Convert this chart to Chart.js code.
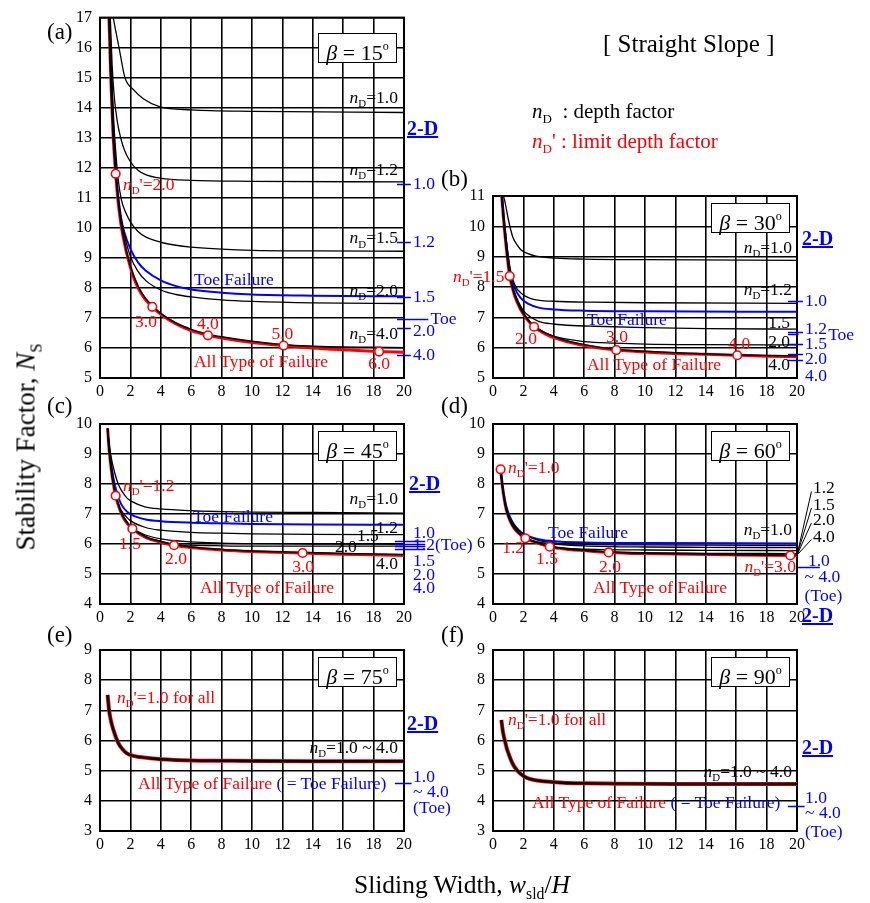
<!DOCTYPE html>
<html>
<head>
<meta charset="utf-8">
<script src="https://cdn.jsdelivr.net/npm/chart.js@4.4.1/dist/chart.umd.min.js"></script>
<style>
  html, body { margin: 0; padding: 0; background: #fff; }
  #stage { position: relative; width: 870px; height: 903px; overflow: hidden; background: #fff;
           font-family: "Liberation Serif", "Times New Roman", serif; }
  #stage canvas { position: absolute; left: 0; top: 0; }
  .t { position: absolute; white-space: nowrap; line-height: 1; font-size: 17.5px; }
  .k { color: #000; }
  .r { color: #ff0000; }
  .b { color: #0000ff; }
  .d { color: #0000ff; font-weight: bold; font-size: 20px; text-decoration: underline; text-decoration-thickness: 2px; }
  .sb { font-size: 0.62em; position: relative; top: 0.4em; font-style: normal; }
  .pl { font-size: 23px; }
  .beta { position: absolute; box-sizing: border-box; width: 79px; height: 30px; border: 1.5px solid #000; background: #fff;
          font-size: 22px; line-height: 28px; text-align: center; white-space: nowrap; }
  .beta sup { font-size: 0.55em; position: relative; top: -0.15em; }
  .ttl { font-size: 25.5px; }
  .ytl { font-size: 27px; }
  .key { font-size: 21px; }
</style>
</head>
<body>
<div id="stage"></div>
<script>
// ---------- axis ticks ----------
const X_TICKS = [0, 2, 4, 6, 8, 10, 12, 14, 16, 18, 20];
const Y_TICKS_A = [5, 6, 7, 8, 9, 10, 11, 12, 13, 14, 15, 16, 17];
const Y_TICKS_B = [5, 6, 7, 8, 9, 10, 11];
const Y_TICKS_C = [4, 5, 6, 7, 8, 9, 10];
const Y_TICKS_D = [4, 5, 6, 7, 8, 9, 10];
const Y_TICKS_E = [3, 4, 5, 6, 7, 8, 9];
const Y_TICKS_F = [3, 4, 5, 6, 7, 8, 9];

// ---------- (a) beta = 15 deg : [w/H, Ns] ----------
const A_ND10 = [[0.87,17],[1.31,15.84],[1.64,15.0],[2.2,14.6],[2.85,14.3],[3.95,14.03],[6,13.93],[10,13.88],[20,13.84]];
const A_ND12 = [[0.68,17],[0.8,15.4],[0.95,14.3],[1.15,13.5],[1.36,13.0],[1.6,12.6],[2,12.2],[2.5,11.92],[3,11.77],[4,11.65],[6,11.58],[10,11.55],[20,11.53]];
const A_ND15 = [[0.64,17],[0.75,15.3],[0.9,13.6],[1.05,12.45],[1.2,11.6],[1.4,10.95],[1.7,10.5],[2,10.2],[2.5,9.88],[3,9.7],[4,9.52],[5,9.42],[6,9.36],[8,9.29],[10,9.25],[14,9.23],[20,9.22]];
const A_ND20 = [[0.6,17],[0.7,15.15],[0.85,13.25],[1.03,11.85],[1.25,10.75],[1.5,10.0],[2,9.05],[2.5,8.55],[3,8.25],[4,7.93],[5,7.78],[6,7.7],[8,7.6],[10,7.55],[14,7.5],[20,7.48]];
const A_ND40 = [[0.6,17],[0.7,15.1],[0.85,13.25],[1.03,11.85],[1.25,10.65],[1.5,9.8],[2,8.72],[2.5,8.06],[3,7.65],[3.44,7.41],[4,7.15],[5,6.83],[6,6.62],[7.1,6.46],[8,6.37],[10,6.22],[12.08,6.11],[14,6.06],[16,6.03],[18,6.02],[20,6.01]];
const A_TOE  = [[0.62,17],[0.72,15.2],[0.87,13.3],[1.03,12.0],[1.2,11.05],[1.4,10.3],[1.6,9.85],[2,9.3],[2.5,8.85],[3,8.58],[4,8.25],[5,8.06],[6,7.95],[8,7.84],[10,7.78],[14,7.74],[20,7.72]];
const A_ALL  = [[0.59,17],[0.7,15.1],[0.85,13.2],[1.03,11.8],[1.25,10.6],[1.5,9.75],[2,8.68],[2.5,8.0],[3,7.6],[3.44,7.37],[4,7.12],[5,6.8],[6,6.58],[7.1,6.42],[8,6.33],[10,6.18],[12.08,6.08],[14,6.0],[16,5.94],[18.36,5.88],[20,5.86]];
const A_LIMIT = [[1.03,11.8],[3.44,7.37],[7.1,6.42],[12.08,6.08],[18.36,5.88]];
const A_2D = [11.46, 9.53, 7.70, 6.97, 6.66, 5.78];   // 1.0, 1.2, 1.5, Toe, 2.0, 4.0

// ---------- (b) beta = 30 deg ----------
const B_ND10 = [[0.7,11],[0.85,10.65],[1.0,10.25],[1.3,9.65],[1.6,9.38],[1.85,9.22],[2.3,9.1],[2.83,9.02],[4.13,8.95],[6,8.92],[10,8.9],[20,8.88]];
const B_ND12 = [[0.6,11],[0.72,10.25],[0.88,9.5],[1.1,8.7],[1.41,8.1],[1.96,7.75],[2.5,7.62],[3.07,7.56],[4,7.53],[6.4,7.5],[10,7.48],[20,7.46]];
const B_ND15 = [[0.57,11],[0.7,10.2],[0.85,9.42],[1.1,8.4],[1.4,7.85],[1.96,7.25],[2.5,7.0],[3.04,6.86],[4,6.78],[5.2,6.73],[6.4,6.71],[10,6.66],[14,6.63],[20,6.61]];
const B_ND20 = [[0.57,11],[0.7,10.2],[0.85,9.42],[1.1,8.4],[1.4,7.8],[1.8,7.33],[2.2,7.0],[2.7,6.72],[3.2,6.55],[4,6.38],[5,6.27],[6,6.2],[8,6.15],[10,6.12],[14,6.1],[20,6.09]];
const B_ND40 = [[0.57,11],[0.7,10.2],[0.85,9.42],[1.1,8.38],[1.4,7.77],[1.8,7.29],[2.2,6.98],[2.7,6.71],[3.5,6.47],[4.5,6.28],[6,6.1],[8.11,5.94],[10,5.88],[12,5.83],[14,5.79],[16.07,5.76],[18,5.74],[20,5.73]];
const B_TOE  = [[0.6,11],[0.72,10.25],[0.87,9.5],[1.1,8.55],[1.4,8.0],[1.8,7.65],[2.3,7.45],[3,7.32],[4,7.26],[6,7.22],[10,7.2],[20,7.18]];
const B_ALL  = [[0.57,11],[0.7,10.2],[0.85,9.4],[1.1,8.36],[1.4,7.75],[1.8,7.27],[2.2,6.96],[2.7,6.69],[3.5,6.44],[4.5,6.25],[6,6.07],[8.11,5.92],[10,5.86],[12,5.81],[14,5.78],[16.07,5.75],[18,5.72],[20,5.7]];
const B_LIMIT = [[1.1,8.36],[2.7,6.69],[8.11,5.92],[16.07,5.75]];
const B_2D = [7.55, 6.53, 6.45, 6.12, 5.79, 5.6];      // 1.0, 1.2, Toe, 1.5, 2.0, 4.0

// ---------- (c) beta = 45 deg ----------
const C_ND10 = [[0.5,9.85],[0.6,9.35],[0.75,8.85],[0.98,8.35],[1.2,8.0],[1.42,7.78],[1.8,7.52],[2.08,7.42],[2.95,7.24],[4,7.17],[6,7.11],[8,7.08],[10,7.06],[14,7.05],[20,7.03]];
const C_ND12 = [[0.5,9.85],[0.6,9.18],[0.75,8.5],[0.88,8.05],[1.03,7.63],[1.3,7.22],[1.6,6.98],[2,6.78],[3,6.55],[4,6.46],[6,6.39],[8,6.36],[10,6.34],[14,6.32],[20,6.31]];
const C_ND15 = [[0.5,9.85],[0.6,9.17],[0.75,8.48],[0.88,8.04],[1.03,7.65],[1.3,7.19],[1.6,6.87],[2.13,6.53],[3,6.3],[4,6.17],[6,6.07],[8,6.03],[10,6.01],[14,6.0],[20,5.99]];
const C_ND20 = [[0.5,9.85],[0.6,9.17],[0.75,8.47],[0.88,8.02],[1.03,7.64],[1.3,7.17],[1.6,6.85],[2.13,6.53],[3,6.25],[4,6.09],[4.87,5.99],[6,5.96],[8,5.94],[10,5.93],[14,5.93],[20,5.93]];
const C_ND40 = [[0.5,9.85],[0.6,9.17],[0.75,8.47],[0.88,8.02],[1.03,7.63],[1.3,7.17],[1.6,6.84],[2.13,6.53],[3,6.24],[4,6.08],[4.87,5.98],[6,5.9],[8,5.82],[10,5.77],[13.33,5.72],[16,5.68],[20,5.65]];
const C_TOE  = [[0.5,9.85],[0.6,9.2],[0.75,8.6],[0.9,8.15],[1.1,7.72],[1.4,7.32],[1.8,7.07],[2.3,6.92],[3,6.82],[4,6.76],[6,6.71],[8,6.69],[10,6.67],[14,6.65],[20,6.64]];
const C_ALL  = [[0.5,9.85],[0.6,9.15],[0.75,8.45],[0.88,8.0],[1.03,7.61],[1.3,7.15],[1.6,6.82],[2.13,6.51],[3,6.22],[4,6.06],[4.87,5.96],[6,5.88],[8,5.8],[10,5.75],[13.33,5.7],[16,5.66],[20,5.62]];
const C_LIMIT = [[1.03,7.61],[2.13,6.51],[4.87,5.96],[13.33,5.7]];
const C_2D = [6.09, 6.01, 5.92, 5.84];

// ---------- (d) beta = 60 deg ----------
const D_ND10 = [[0.5,8.49],[0.6,8.02],[0.7,7.66],[0.88,7.2],[1.1,6.88],[1.32,6.68],[1.7,6.45],[2.13,6.3],[3,6.12],[4,6.04],[6,5.99],[10,5.97],[14,5.96],[20,5.95]];
const D_ND12 = [[0.5,8.49],[0.6,8.0],[0.7,7.63],[0.88,7.15],[1.1,6.82],[1.32,6.6],[1.7,6.37],[2.13,6.2],[3,6.06],[4,6.0],[6,5.94],[10,5.9],[14,5.89],[20,5.88]];
const D_ND15 = [[0.5,8.49],[0.6,8.0],[0.7,7.62],[0.88,7.14],[1.1,6.81],[1.32,6.59],[1.7,6.36],[2.13,6.2],[3,6.03],[3.73,5.92],[5,5.85],[6,5.83],[10,5.8],[14,5.79],[20,5.78]];
const D_ND20 = [[0.5,8.49],[0.6,8.0],[0.7,7.62],[0.88,7.14],[1.1,6.81],[1.32,6.59],[1.7,6.36],[2.13,6.2],[3,6.03],[3.73,5.92],[5,5.83],[6,5.79],[7.61,5.73],[10,5.7],[14,5.69],[20,5.68]];
const D_ND40 = [[0.5,8.49],[0.6,8.0],[0.7,7.62],[0.88,7.14],[1.1,6.81],[1.32,6.59],[1.7,6.36],[2.13,6.2],[3,6.03],[3.73,5.92],[5,5.83],[6,5.79],[7.61,5.73],[10,5.69],[14,5.66],[19.56,5.63],[20,5.63]];
const D_TOE  = [[0.55,8.3],[0.7,7.7],[0.88,7.25],[1.1,6.92],[1.32,6.7],[1.7,6.46],[2.13,6.3],[3,6.16],[4,6.09],[6,6.05],[10,6.03],[20,6.02]];
const D_ALL  = [[0.5,8.49],[0.6,8.0],[0.7,7.62],[0.88,7.13],[1.1,6.8],[1.32,6.58],[1.7,6.35],[2.13,6.19],[3,6.02],[3.73,5.91],[5,5.82],[6,5.78],[7.61,5.72],[10,5.68],[14,5.65],[19.56,5.62],[20,5.62]];
const D_LIMIT = [[0.5,8.49],[2.13,6.19],[3.73,5.91],[7.61,5.72],[19.56,5.62]];
const D_2D = [5.24];

// ---------- (e) beta = 75 deg (all depth factors coincide) ----------
const E_NS  = [[0.5,7.51],[0.6,7.0],[0.7,6.7],[0.88,6.35],[1.2,5.92],[1.5,5.7],[1.75,5.58],[2.2,5.49],[2.63,5.45],[3.3,5.41],[4,5.38],[6,5.34],[8,5.33],[10,5.32],[14,5.31],[20,5.31]];
const E_2D = [4.59];

// ---------- (f) beta = 90 deg ----------
const F_NS  = [[0.55,6.68],[0.65,6.3],[0.77,6.02],[0.9,5.75],[1.1,5.46],[1.3,5.22],[1.54,5.04],[1.85,4.88],[2.19,4.77],[2.7,4.69],[3.29,4.65],[4.6,4.6],[6,4.58],[8.1,4.57],[12,4.56],[20,4.56]];
const F_2D = [3.82];

// ---------- colours & text helpers ----------
const RED = '#ff0000', BLUE = '#0000ff', BLACK = '#000000';
const ND  = "<i>n</i><span class='sb'>D</span>";
const NDP = "<i>n</i><span class='sb'>D</span>'";
const ALL_TOE = "<span class='r'>All Type of Failure</span> <span class='b'>( = Toe Failure)</span>";

Chart.defaults.font.family = "'Liberation Serif','Times New Roman',serif";
Chart.defaults.font.size = 16;
Chart.defaults.color = '#000';

const stage = document.getElementById('stage');
const W = 870, H = 903, Y_W = 50, X_H = 30;

function addText(x, y, html, cls, align) {
  const d = document.createElement('div');
  d.className = 't ' + (cls || '');
  d.innerHTML = html;
  d.style.left = x + 'px';
  d.style.top = y + 'px';
  const tx = align === 'r' ? '-100%' : (align === 'c' ? '-50%' : '0');
  d.style.transform = 'translate(' + tx + ',-50%)';
  stage.appendChild(d);
  return d;
}

function curve(points, color, width, order) {
  return {
    data: points.map(p => ({ x: p[0], y: p[1] })),
    borderColor: color, borderWidth: width, pointRadius: 0,
    cubicInterpolationMode: 'monotone', fill: false, order: order
  };
}

function makePanel(p) {
  const cv = document.createElement('canvas');
  cv.width = W; cv.height = H;
  cv.style.width = W + 'px'; cv.style.height = H + 'px';
  stage.appendChild(cv);
  const [L, T, R, B] = p.area;

  const datasets = [];
  if (p.limits) {
    datasets.push({
      data: p.limits.map(q => ({ x: q[0], y: q[1] })), showLine: false,
      pointRadius: 4.3, pointBackgroundColor: '#fff', pointBorderColor: RED, pointBorderWidth: 1.6, order: 0
    });
  }
  p.series.forEach(s => datasets.push(curve(s[0], s[1], s[2], s[3])));

  const deco = {
    id: 'deco',
    beforeDatasetsDraw(chart) {
      const { ctx, chartArea: a } = chart;
      ctx.save();
      ctx.strokeStyle = BLACK; ctx.lineWidth = 2;
      ctx.strokeRect(a.left, a.top, a.right - a.left, a.bottom - a.top);
      ctx.restore();
    },
    afterDraw(chart) {
      const { ctx } = chart;
      const xs = chart.scales.x, ys = chart.scales.y;
      ctx.save();
      ctx.strokeStyle = BLUE; ctx.lineWidth = 1.5;
      p.dashes.forEach(dd => {
        const y = Math.round(ys.getPixelForValue(dd[0])) + 0.5;
        ctx.beginPath();
        ctx.moveTo(xs.getPixelForValue(dd[1]), y);
        ctx.lineTo(xs.getPixelForValue(dd[2]), y);
        ctx.stroke();
      });
      if (p.leaders) {
        ctx.strokeStyle = BLACK; ctx.lineWidth = 1;
        p.leaders.forEach(l => {
          ctx.beginPath();
          ctx.moveTo(xs.getPixelForValue(l[0]), ys.getPixelForValue(l[1]));
          ctx.lineTo(xs.getPixelForValue(l[2]), ys.getPixelForValue(l[3]));
          ctx.stroke();
        });
      }
      ctx.restore();
    }
  };

  const chart = new Chart(cv, {
    type: 'line',
    data: { datasets },
    options: {
      responsive: false, animation: false, events: [], devicePixelRatio: 1,
      layout: { padding: { left: L - Y_W, top: T, right: W - R, bottom: H - B - X_H } },
      plugins: { legend: { display: false }, tooltip: { enabled: false } },
      scales: {
        x: {
          type: 'linear', min: X_TICKS[0], max: X_TICKS[X_TICKS.length - 1],
          afterBuildTicks: s => { s.ticks = X_TICKS.map(v => ({ value: v })); },
          afterFit: s => { s.height = X_H; },
          ticks: { padding: 4, maxRotation: 0, autoSkip: false, color: '#000', font: { size: 16 } },
          grid: { color: '#000', lineWidth: 1.6, drawTicks: false },
          border: { display: false }
        },
        y: {
          type: 'linear', min: p.yTicks[0], max: p.yTicks[p.yTicks.length - 1],
          afterBuildTicks: s => { s.ticks = p.yTicks.map(v => ({ value: v })); },
          afterFit: s => { s.width = Y_W; },
          ticks: { padding: 8, autoSkip: false, color: '#000', font: { size: 16 } },
          grid: { color: '#000', lineWidth: 1.6, drawTicks: false },
          border: { display: false }
        }
      }
    },
    plugins: [deco]
  });

  const xs = chart.scales.x, ys = chart.scales.y, a = chart.chartArea;
  // panel letter and slope-angle box
  addText(p.letter[0], p.letter[1], p.letter[2], 'k pl', 'l');
  const bx = document.createElement('div');
  bx.className = 'beta';
  bx.innerHTML = "<i>β</i> = " + p.beta + "<sup>o</sup>";
  bx.style.left = (a.right - 86) + 'px';
  bx.style.top = (a.top + p.boxTop) + 'px';
  stage.appendChild(bx);
  // curve labels and 2-D markers
  p.notes.forEach(n => addText(xs.getPixelForValue(n[0]), ys.getPixelForValue(n[1]), n[2], n[3], n[4]));
  return chart;
}

const panels = [
  {
    area: [100, 14, 404, 378], yTicks: Y_TICKS_A, beta: '15', boxTop: 15, letter: [47, 31, '(a)'],
    limits: A_LIMIT,
    series: [[A_ALL, RED, 3, 5], [A_TOE, BLUE, 2, 4], [A_ND10, BLACK, 1.3, 1], [A_ND12, BLACK, 1.3, 1],
             [A_ND15, BLACK, 1.3, 1], [A_ND20, BLACK, 1.3, 1], [A_ND40, BLACK, 1.5, 1]],
    dashes: [[A_2D[0], 19.54, 20.45], [A_2D[1], 19.54, 20.45], [A_2D[2], 19.54, 20.45],
             [A_2D[3], 19.54, 21.6], [A_2D[4], 19.54, 20.45], [A_2D[5], 19.54, 20.45]],
    notes: [
      [19.6, 14.33, ND + '=1.0', 'k', 'r'], [19.6, 11.92, ND + '=1.2', 'k', 'r'],
      [1.51, 11.43, NDP + '=2.0', 'r', 'l'], [19.6, 9.65, ND + '=1.5', 'k', 'r'],
      [6.18, 8.26, 'Toe Failure', 'b', 'l'], [19.6, 7.9, ND + '=2.0', 'k', 'r'],
      [3.03, 6.85, '3.0', 'r', 'c'], [7.1, 6.81, '4.0', 'r', 'c'], [12.0, 6.48, '5.0', 'r', 'c'],
      [19.6, 6.48, ND + '=4.0', 'k', 'r'], [6.18, 5.53, 'All Type of Failure', 'r', 'l'],
      [18.36, 5.46, '6.0', 'r', 'c'],
      [20.2, 13.34, '2-D', 'd', 'l'],
      [20.6, A_2D[0], '1.0', 'b', 'l'], [20.6, A_2D[1], '1.2', 'b', 'l'], [20.6, A_2D[2], '1.5', 'b', 'l'],
      [21.75, A_2D[3], 'Toe', 'b', 'l'], [20.6, 6.55, '2.0', 'b', 'l'], [20.6, A_2D[5], '4.0', 'b', 'l']
    ]
  },
  {
    area: [493, 196, 797, 378], yTicks: Y_TICKS_B, beta: '30', boxTop: 7, letter: [441, 178, '(b)'],
    limits: B_LIMIT,
    series: [[B_ALL, RED, 3, 5], [B_TOE, BLUE, 2, 4], [B_ND10, BLACK, 1.3, 1], [B_ND12, BLACK, 1.3, 1],
             [B_ND15, BLACK, 1.3, 1], [B_ND20, BLACK, 1.3, 1], [B_ND40, BLACK, 1.5, 1]],
    dashes: [[B_2D[0], 19.41, 20.4], [B_2D[1], 19.41, 20.4], [B_2D[2], 19.41, 20.1], [B_2D[3], 19.41, 20.4],
             [B_2D[4], 19.41, 20.4], [B_2D[5], 19.41, 20.4]],
    notes: [
      [19.67, 9.29, ND + '=1.0', 'k', 'r'], [0.75, 8.34, NDP + '=1.5', 'r', 'r'],
      [19.67, 7.91, ND + '=1.2', 'k', 'r'], [6.18, 6.92, 'Toe Failure', 'b', 'l'],
      [19.54, 6.82, '1.5', 'k', 'r'], [2.17, 6.3, '2.0', 'r', 'c'], [8.16, 6.36, '3.0', 'r', 'c'],
      [19.54, 6.2, '2.0', 'k', 'r'], [16.2, 6.13, '4.0', 'r', 'c'],
      [6.18, 5.44, 'All Type of Failure', 'r', 'l'], [19.54, 5.44, '4.0', 'k', 'r'],
      [20.33, 9.62, '2-D', 'd', 'l'],
      [20.53, B_2D[0], '1.0', 'b', 'l'], [20.53, 6.63, '1.2', 'b', 'l'], [22.05, 6.43, 'Toe', 'b', 'l'],
      [20.53, 6.13, '1.5', 'b', 'l'], [20.53, 5.64, '2.0', 'b', 'l'], [20.53, 5.08, '4.0', 'b', 'l']
    ]
  },
  {
    area: [100, 424, 404, 604], yTicks: Y_TICKS_C, beta: '45', boxTop: 7, letter: [47, 405, '(c)'],
    limits: C_LIMIT,
    series: [[C_ALL, RED, 3, 5], [C_TOE, BLUE, 2, 4], [C_ND10, BLACK, 1.3, 1], [C_ND12, BLACK, 1.3, 1],
             [C_ND15, BLACK, 1.3, 1], [C_ND20, BLACK, 1.3, 1], [C_ND40, BLACK, 1.5, 1]],
    dashes: C_2D.map(v => [v, 19.4, 21.4]),
    notes: [
      [1.51, 7.94, NDP + '=1.2', 'r', 'l'], [19.6, 7.51, ND + '=1.0', 'k', 'r'],
      [6.12, 6.91, 'Toe Failure', 'b', 'l'], [19.6, 6.54, '1.2', 'k', 'r'],
      [16.9, 6.28, '1.5', 'k', 'l'], [15.46, 5.91, '2.0', 'k', 'l'],
      [1.97, 6.01, '1.5', 'r', 'c'], [5.0, 5.51, '2.0', 'r', 'c'], [13.36, 5.25, '3.0', 'r', 'c'],
      [19.6, 5.35, '4.0', 'k', 'r'], [6.58, 4.52, 'All Type of Failure', 'r', 'l'],
      [20.33, 8.04, '2-D', 'd', 'l'],
      [20.6, 6.38, '1.0', 'b', 'l'], [20.6, 5.98, '1.2(Toe)', 'b', 'l'], [20.6, 5.45, '1.5', 'b', 'l'],
      [20.6, 4.98, '2.0', 'b', 'l'], [20.6, 4.55, '4.0', 'b', 'l']
    ]
  },
  {
    area: [493, 424, 797, 604], yTicks: Y_TICKS_D, beta: '60', boxTop: 7, letter: [441, 405, '(d)'],
    limits: D_LIMIT,
    series: [[D_ALL, RED, 3, 5], [D_TOE, BLUE, 2, 4], [D_ND10, BLACK, 1.3, 1], [D_ND12, BLACK, 1.3, 1],
             [D_ND15, BLACK, 1.3, 1], [D_ND20, BLACK, 1.3, 1], [D_ND40, BLACK, 1.5, 1]],
    dashes: D_2D.map(v => [v, 20.07, 21.5]),
    leaders: [[20, 5.63, 20.95, 7.75], [20, 5.63, 20.95, 7.2], [20, 5.63, 20.95, 6.7], [20, 5.63, 20.95, 6.15]],
    notes: [
      [0.99, 8.53, NDP + '=1.0', 'r', 'l'], [3.62, 6.37, 'Toe Failure', 'b', 'l'],
      [19.67, 6.47, ND + '=1.0', 'k', 'r'], [1.32, 5.87, '1.2', 'r', 'c'], [3.55, 5.5, '1.5', 'r', 'c'],
      [7.7, 5.23, '2.0', 'r', 'c'], [19.93, 5.23, NDP + '=3.0', 'r', 'r'],
      [6.58, 4.53, 'All Type of Failure', 'r', 'l'],
      [21.05, 7.87, '1.2', 'k', 'l'], [21.05, 7.3, '1.5', 'k', 'l'], [21.05, 6.8, '2.0', 'k', 'l'],
      [21.05, 6.23, '4.0', 'k', 'l'],
      [20.72, 5.43, '1.0', 'b', 'l'], [20.5, 4.9, '~ 4.0', 'b', 'l'], [20.5, 4.27, '(Toe)', 'b', 'l'],
      [20.33, 3.63, '2-D', 'd', 'l']
    ]
  },
  {
    area: [100, 650, 404, 831], yTicks: Y_TICKS_E, beta: '75', boxTop: 7, letter: [47, 634, '(e)'],
    series: [[E_NS, RED, 4, 5], [E_NS, BLACK, 2.4, 1]],
    dashes: E_2D.map(v => [v, 19.4, 20.5]),
    notes: [
      [1.12, 7.41, NDP + '=1.0 for all', 'r', 'l'], [19.6, 5.75, ND + '=1.0 ~ 4.0', 'k', 'r'],
      [2.5, 4.56, ALL_TOE, '', 'l'], [20.2, 6.58, '2-D', 'd', 'l'],
      [20.6, 4.79, '1.0', 'b', 'l'], [20.6, 4.29, '~ 4.0', 'b', 'l'], [20.6, 3.76, '(Toe)', 'b', 'l']
    ]
  },
  {
    area: [493, 650, 797, 831], yTicks: Y_TICKS_F, beta: '90', boxTop: 7, letter: [441, 634, '(f)'],
    series: [[F_NS, RED, 4, 5], [F_NS, BLACK, 2.4, 1]],
    dashes: F_2D.map(v => [v, 19.4, 20.5]),
    notes: [
      [0.99, 6.68, NDP + '=1.0 for all', 'r', 'l'], [19.67, 4.96, ND + '=1.0 ~ 4.0', 'k', 'r'],
      [2.57, 3.93, ALL_TOE, '', 'l'], [20.33, 5.78, '2-D', 'd', 'l'],
      [20.53, 4.09, '1.0', 'b', 'l'], [20.53, 3.6, '~ 4.0', 'b', 'l'], [20.53, 2.97, '(Toe)', 'b', 'l']
    ]
  }
];

panels.forEach(makePanel);

// page-level titles and key
addText(603, 43, '[ Straight Slope ]', 'k', 'l').style.fontSize = '25px';
addText(532, 111, ND + '&nbsp; : depth factor', 'k key', 'l');
addText(532, 141, NDP + ' : limit depth factor', 'r key', 'l');
addText(462, 885, "Sliding Width, <i>w</i><span class='sb'>sld</span>/<i>H</i>", 'k ttl', 'c');
const yt = addText(26, 447, "Stability Factor, <i>N</i><span class='sb'>S</span>", 'k ytl', 'l');
yt.style.transform = 'translate(-50%,-50%) rotate(-90deg)';
</script>
</body>
</html>
